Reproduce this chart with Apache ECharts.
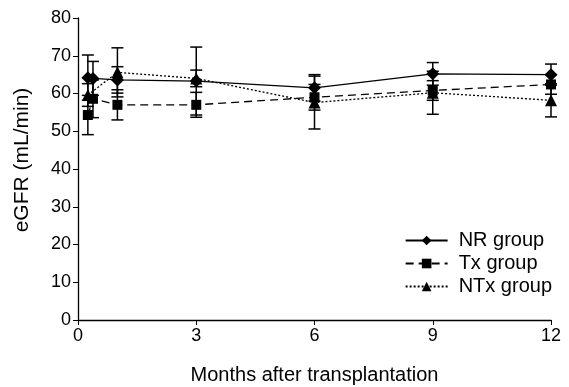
<!DOCTYPE html>
<html><head><meta charset="utf-8">
<script src="https://cdn.jsdelivr.net/npm/echarts@6/dist/echarts.min.js"></script>
<style>html,body{margin:0;padding:0;background:#fff}#c{width:569px;height:387px}</style>
</head><body><div id="c"></div>
<script>
const months = [0.25, 0.38, 1, 3, 6, 9, 12];
const nrMean = [64.2, 64, 63.6, 63.3, 61.5, 65.2, 65];
const nrErr  = [6, 4.5, 3.5, 9, 3.5, 3, 2.8];
const txMean = [54.3, 58.6, 57, 57, 59, 60.8, 62.4];
const txErr  = [5.2, 5, 4, 3.3, 3.4, 2.6, 2.6];
const ntxMonths = [0.25, 1, 3, 6, 9, 12];
const ntxMean = [59.6, 65.6, 64, 57.6, 60.2, 58.2];
const ntxErr  = [3, 6.5, 2.2, 7, 5.7, 4.4];
const xTicks = [0, 3, 6, 9, 12];
const yTicks = [0, 10, 20, 30, 40, 50, 60, 70, 80];

const font = 'Liberation Sans, Arial, sans-serif';
function pairs(xs, ys){ return xs.map((x,i)=>[x, ys[i]]); }
function errData(xs, m, e){ return xs.map((x,i)=>[x, m[i]-e[i], m[i]+e[i]]); }
function errSeries(data){
  return {
    type:'custom', silent:true, z:1, data:data,
    renderItem:function(params, api){
      const x = api.value(0);
      const lo = api.coord([x, api.value(1)]);
      const hi = api.coord([x, api.value(2)]);
      const w = 6;
      const st = {stroke:'#000', lineWidth:1.5};
      return {type:'group', children:[
        {type:'line', shape:{x1:lo[0],y1:lo[1],x2:hi[0],y2:hi[1]}, style:st},
        {type:'line', shape:{x1:lo[0]-w,y1:lo[1],x2:lo[0]+w,y2:lo[1]}, style:st},
        {type:'line', shape:{x1:hi[0]-w,y1:hi[1],x2:hi[0]+w,y2:hi[1]}, style:st}
      ]};
    }
  };
}
const chart = echarts.init(document.getElementById('c'), null, {renderer:'canvas'});
chart.setOption({
  animation:false,
  backgroundColor:'#fff',
  grid:{left:78, right:18, top:18, bottom:67, containLabel:false, outerBoundsMode:'none'},
  legend:{
    right:12, top:224, orient:'vertical', itemWidth:42, itemHeight:12, itemGap:0,
    textStyle:{fontFamily:font, fontSize:20, color:'#000', lineHeight:23, padding:[0,0,0,6]},
    data:['NR group','Tx group','NTx group']
  },
  xAxis:{
    type:'value', min:0, max:12, interval:3,
    name:'Months after transplantation', nameLocation:'middle', nameGap:45, nameMoveOverlap:false,
    nameTextStyle:{fontFamily:font, fontSize:20, color:'#000'},
    axisLine:{lineStyle:{color:'#000', width:1.3}},
    axisTick:{length:5, lineStyle:{color:'#000'}},
    axisLabel:{fontFamily:font, fontSize:18, color:'#000', margin:7,
      formatter:v=>xTicks.includes(v)?String(v):''},
    splitLine:{show:false}
  },
  yAxis:{
    type:'value', min:0, max:80, interval:10,
    name:'eGFR (mL/min)', nameLocation:'middle', nameGap:45, nameMoveOverlap:false,
    nameTextStyle:{fontFamily:font, fontSize:21, color:'#000', padding:[0,0,0,18]},
    axisLine:{show:true, lineStyle:{color:'#000', width:1.3}},
    axisTick:{show:true, length:5, lineStyle:{color:'#000'}},
    axisLabel:{fontFamily:font, fontSize:18, color:'#000', margin:7,
      formatter:v=>yTicks.includes(v)?String(v):''},
    splitLine:{show:false}
  },
  series:[
    errSeries(errData(months, nrMean, nrErr)),
    errSeries(errData(months, txMean, txErr)),
    errSeries(errData(ntxMonths, ntxMean, ntxErr)),
    {name:'NR group', type:'line', data:pairs(months, nrMean), symbol:'diamond', symbolSize:13, z:3,
      lineStyle:{color:'#000', width:1.3, type:'solid'}, itemStyle:{color:'#000'}},
    {name:'Tx group', type:'line', data:pairs(months, txMean), symbol:'rect', symbolSize:10, z:3,
      lineStyle:{color:'#000', width:1.3, type:[8,5]}, itemStyle:{color:'#000'}},
    {name:'NTx group', type:'line', data:pairs(ntxMonths, ntxMean), symbol:'triangle', symbolSize:12, z:3,
      lineStyle:{color:'#000', width:1.3, type:[2,2]}, itemStyle:{color:'#000'}}
  ]
});
</script></body></html>
